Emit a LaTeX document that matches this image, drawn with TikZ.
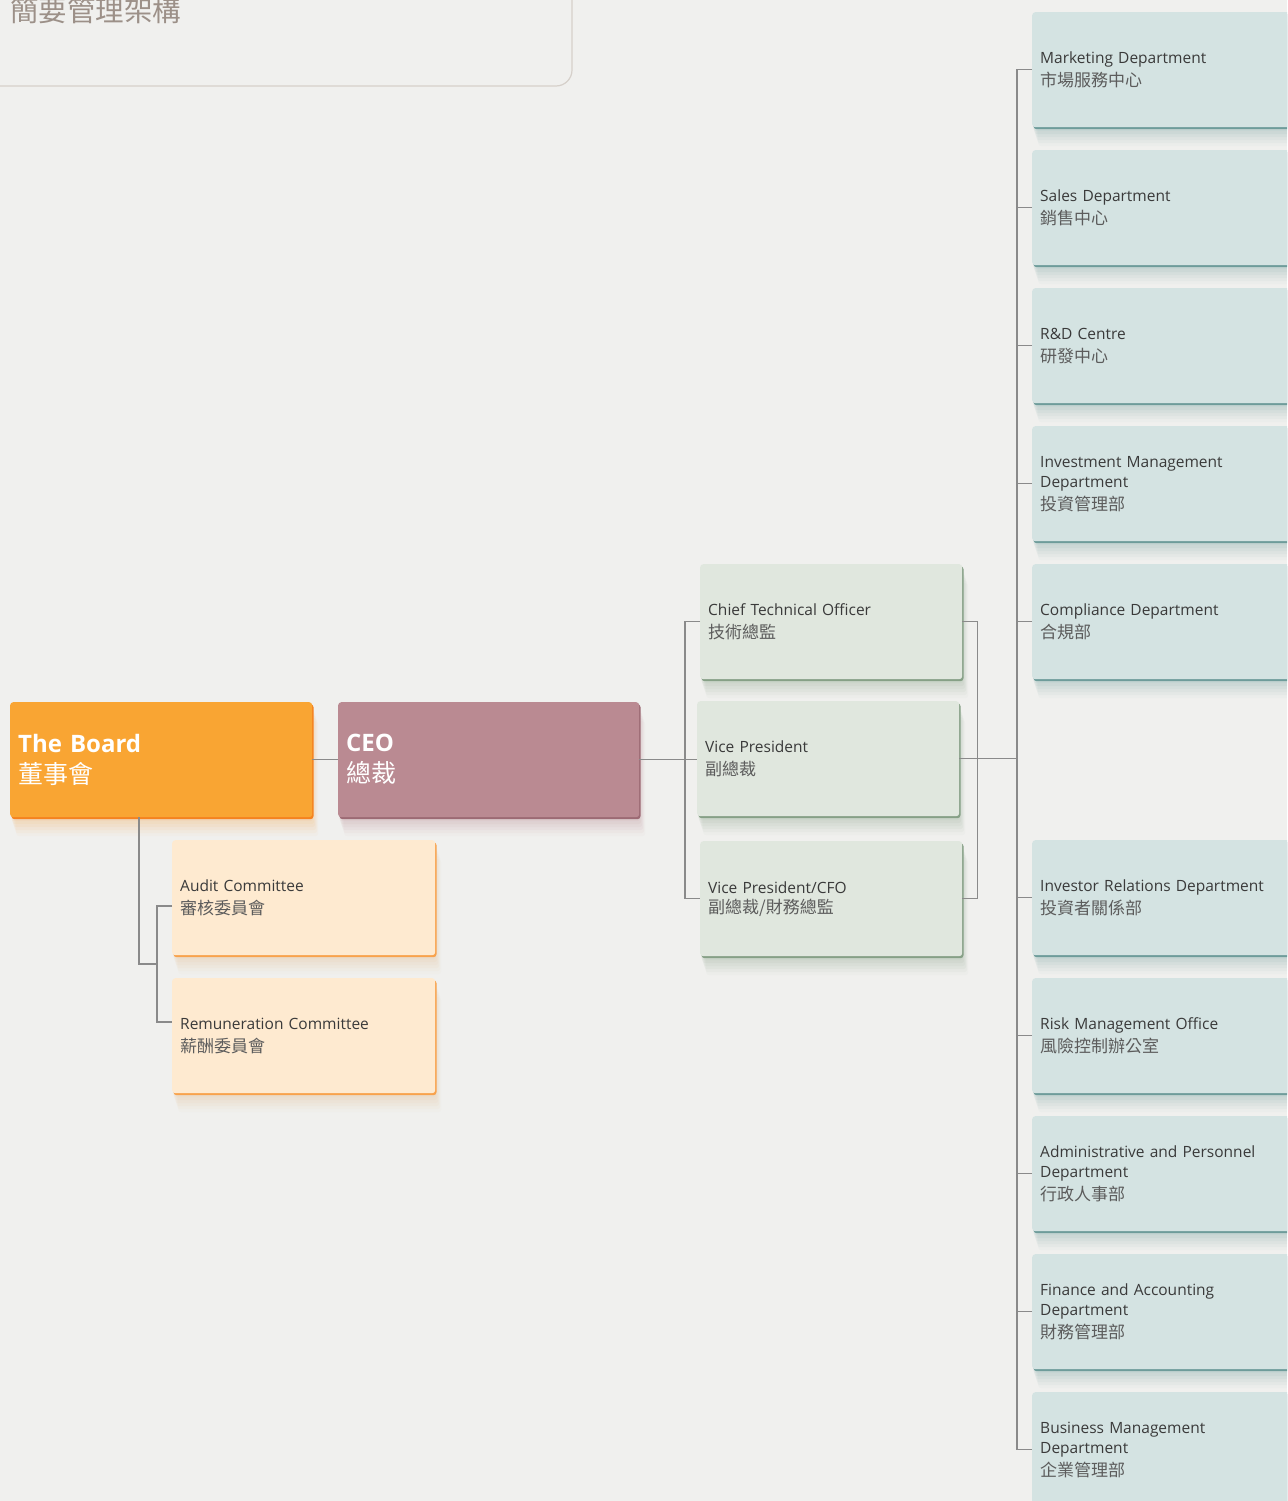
\documentclass[tikz,border=0pt]{standalone}
\usepackage{fontspec}
\setmainfont{Open Sans}
\newfontfamily\cjk{Noto Sans CJK TC}
\usetikzlibrary{calc}
\definecolor{bg}{HTML}{F0F0EE}
\definecolor{titlec}{HTML}{9C9088}
\definecolor{frame}{HTML}{D6D0CA}
\definecolor{conn}{HTML}{8A8A8A}
\definecolor{txt}{HTML}{3A3A3A}
\definecolor{cn}{HTML}{5C5C5C}
\definecolor{boardfill}{HTML}{F9A533}
\definecolor{boardedge}{HTML}{F5821F}
\definecolor{boardsh}{HTML}{F0B060}
\definecolor{ceofill}{HTML}{BA8A92}
\definecolor{ceoedge}{HTML}{9C6A74}
\definecolor{ceosh}{HTML}{C09098}
\definecolor{comfill}{HTML}{FEEAD0}
\definecolor{comedge}{HTML}{F8A24C}
\definecolor{comsh}{HTML}{E8C090}
\definecolor{vpfill}{HTML}{E0E7DE}
\definecolor{vpedge}{HTML}{86A086}
\definecolor{vpsh}{HTML}{90A890}
\definecolor{dfill}{HTML}{D4E3E2}
\definecolor{dedge}{HTML}{6E9C9A}
\definecolor{dsh}{HTML}{80A8A6}
\newcommand\enf{\fontsize{15.5}{20}\selectfont}
\newcommand\cnf{\cjk\fontsize{17}{20}\selectfont\color{cn}}
\newcommand\cnbig{\cjk\mdseries\fontsize{25}{31}\selectfont}
\tikzset{
  card/.style={rounded corners=3pt, minimum height=115pt, inner xsep=8pt, inner ysep=0pt,
    align=left, anchor=north west, text=txt, font=\enf},
  soft/.style={
    preaction={fill=#1, fill opacity=0.09, transform canvas={xshift=1pt,yshift=-4pt}},
    preaction={fill=#1, fill opacity=0.09, transform canvas={xshift=2pt,yshift=-7pt}},
    preaction={fill=#1, fill opacity=0.08, transform canvas={xshift=3pt,yshift=-10pt}},
    preaction={fill=#1, fill opacity=0.07, transform canvas={xshift=4pt,yshift=-13pt}},
    preaction={fill=#1, fill opacity=0.06, transform canvas={xshift=5pt,yshift=-16pt}},
    preaction={fill=#1, fill opacity=0.04, transform canvas={xshift=6pt,yshift=-19pt}}},
  rim/.style={preaction={fill=#1, transform canvas={xshift=1.3pt,yshift=-2pt}}},
  topbox/.style={card, soft=#1sh, rim=#1edge, fill=#1fill, text=white,
    font=\bfseries\fontsize{24}{31}\selectfont},
  combox/.style={card, soft=comsh, rim=comedge, fill=comfill, text width=247pt},
  vpbox/.style={card, soft=vpsh, rim=vpedge, fill=vpfill, text width=246pt},
  dbox/.style={card, soft=dsh, rim=dedge, fill=dfill, text width=264pt},
  link/.style={draw=conn, line width=1.1pt}
}
\begin{document}
\begin{tikzpicture}[x=1pt,y=-1pt]
\path[use as bounding box, fill=bg] (0,0) rectangle (1287,1501);
\clip (0,0) rectangle (1287,1501);
% title frame
\draw[frame, line width=1.2pt, rounded corners=16pt] (-40,-40) rectangle (572,86);
\node[anchor=base west, inner sep=0pt, text=titlec, font=\cjk\fontsize{28.5}{30}\selectfont] (title) at (10,22) {簡要管理架構};
% top level
\node[topbox=board, text width=286pt] (board) at (10,702) {The Board\\{\cnbig 董事會}};
\node[topbox=ceo, text width=285pt] (ceo) at (338,702) {CEO\\{\cnbig 總裁}};
% committees
\node[combox] (audit) at (172,840) {Audit Committee\\[3pt]{\cnf 審核委員會}};
\node[combox] (remun) at (172,978) {Remuneration Committee\\[3pt]{\cnf 薪酬委員會}};
% vice presidents
\node[vpbox] (cto) at (700,564) {Chief Technical Officer\\[3pt]{\cnf 技術總監}};
\node[vpbox] (vp) at (697,701) {Vice President\\[3pt]{\cnf 副總裁}};
\node[vpbox] (cfo) at (700,841) {Vice President/CFO\\{\cnf 副總裁/財務總監}};
% departments
\node[dbox] (mkt) at (1032,12) {Marketing Department\\[3pt]{\cnf 市場服務中心}};
\node[dbox] (sales) at (1032,150) {Sales Department\\[3pt]{\cnf 銷售中心}};
\node[dbox] (rd) at (1032,288) {R\&D Centre\\[3pt]{\cnf 研發中心}};
\node[dbox] (inv) at (1032,426) {Investment Management\\Department\\[3pt]{\cnf 投資管理部}};
\node[dbox] (comp) at (1032,564) {Compliance Department\\[3pt]{\cnf 合規部}};
\node[dbox] (ir) at (1032,840) {Investor Relations Department\\[3pt]{\cnf 投資者關係部}};
\node[dbox] (risk) at (1032,978) {Risk Management Office\\[3pt]{\cnf 風險控制辦公室}};
\node[dbox] (admin) at (1032,1116) {Administrative and Personnel\\Department\\[3pt]{\cnf 行政人事部}};
\node[dbox] (fin) at (1032,1254) {Finance and Accounting\\Department\\[3pt]{\cnf 財務管理部}};
\node[dbox] (biz) at (1032,1392) {Business Management\\Department\\[3pt]{\cnf 企業管理部}};
% connectors
\coordinate (bdrop) at ($(board.south west)+(129,0)$);
\coordinate (aj) at ($(audit.north west)+(0,66)$);
\coordinate (rj) at ($(remun.north west)+(0,44)$);
\coordinate (cbus) at ($(aj)+(-15,0)$);
\draw[link] (board.east) -- (ceo.west);
\draw[link] (bdrop) |- ($(cbus)!0.5!(cbus |- rj)$);
\draw[link] (aj) -- (cbus) |- (rj);
\draw[link] (ceo.east) -- (vp.west |- ceo.east);
\draw[link] (cto.west) -- ++(-15,0) |- (cfo.west);
\draw[link] (cto.east) -- ++(15,0) |- (cfo.east);
\coordinate (dbus) at ($(mkt.west)+(-15,0)$);
\draw[link] (vp.east) -- (vp.east -| dbus);
\draw[link] (mkt.west) -- (dbus) |- (biz.west);
\foreach \d in {sales,rd,inv,comp,ir,risk,admin,fin}
  \draw[link] (\d.west) -- (\d.west -| dbus);
\end{tikzpicture}
\end{document}
